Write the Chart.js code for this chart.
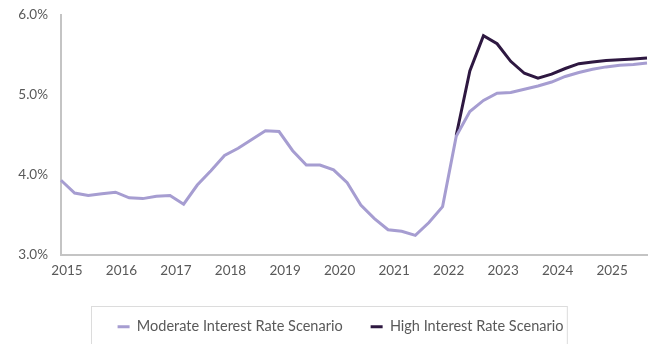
<!DOCTYPE html>
<html>
<head>
<meta charset="utf-8">
<script src="https://cdn.jsdelivr.net/npm/chart.js@4"></script>
<style>
  html, body { margin: 0; padding: 0; background: #fff; }
  #wrap { width: 657px; height: 344px; }
</style>
</head>
<body>
<div id="wrap"><canvas id="myChart" width="657" height="344"></canvas></div>
<script>
// quarterly, 2015 Q1 .. 2025 Q4
var years = [2015, 2016, 2017, 2018, 2019, 2020, 2021, 2022, 2023, 2024, 2025];
var yTicks = [3.0, 4.0, 5.0, 6.0];

var moderate = [
  3.93, 3.77, 3.74, 3.76,  3.78, 3.71, 3.70, 3.73,
  3.74, 3.63, 3.87, 4.05,  4.24, 4.33, 4.44, 4.55,
  4.54, 4.30, 4.12, 4.12,  4.06, 3.90, 3.62, 3.45,
  3.31, 3.29, 3.24, 3.40,  3.60, 4.48, 4.79, 4.93,
  5.02, 5.03, 5.07, 5.11,  5.16, 5.23, 5.28, 5.32,
  5.35, 5.37, 5.38, 5.40
];
var high = [
  null, null, null, null,  null, null, null, null,
  null, null, null, null,  null, null, null, null,
  null, null, null, null,  null, null, null, null,
  null, null, null, null,  null, 4.49, 5.30, 5.74,
  5.64, 5.42, 5.27, 5.21,  5.26, 5.33, 5.39, 5.41,
  5.43, 5.44, 5.45, 5.46
];

var labels = [];
years.forEach(function (y) {
  for (var q = 1; q <= 4; q++) labels.push(y + " Q" + q);
});

var tickColor = "#595959";
var axisColor = "#c4c4c4";
Chart.defaults.font.family = "Lato, 'Open Sans', sans-serif";
Chart.defaults.font.size = 13;
Chart.defaults.color = tickColor;

// nudge the legend a bit right and put a box round it
var legendBorder = {
  id: "legendBorder",
  afterLayout: function (chart) {
    var lg = chart.legend;
    lg.left += 17;
    lg.right += 17;
    (lg.legendHitBoxes || []).forEach(function (b) { b.left += 17; });
  },
  afterDraw: function (chart) {
    var boxes = chart.legend.legendHitBoxes;
    if (!boxes || !boxes.length) return;
    var l = boxes[0].left, r = boxes[boxes.length - 1].left + boxes[boxes.length - 1].width;
    var t = boxes[0].top;
    var ctx = chart.ctx;
    ctx.save();
    ctx.strokeStyle = "#dcdcdc";
    ctx.lineWidth = 1;
    ctx.strokeRect(Math.round(l - 27) + 0.5, Math.round(t - 14) + 0.5, (r - l) + 30, 60);
    ctx.restore();
  }
};

const ctx = document.getElementById("myChart");
new Chart(ctx, {
  type: "line",
  data: {
    labels: labels,
    datasets: [{
      label: "Moderate Interest Rate Scenario",
      data: moderate,
      borderColor: "#a69dd1",
      backgroundColor: "#a69dd1",
      borderWidth: 3,
      pointRadius: 0,
      tension: 0
    }, {
      label: "High Interest Rate Scenario",
      data: high,
      borderColor: "#2e1841",
      backgroundColor: "#2e1841",
      borderWidth: 3,
      pointRadius: 0,
      tension: 0
    }]
  },
  options: {
    responsive: false,
    animation: false,
    layout: { padding: { left: 0, right: 10, top: 15, bottom: 0 } },
    plugins: {
      tooltip: { enabled: false },
      legend: {
        position: "bottom",
        labels: {
          boxWidth: 12,
          boxHeight: 3,
          padding: 28,
          font: { size: 14.5 },
          color: tickColor,
          generateLabels: function (chart) {
            var items = Chart.defaults.plugins.legend.labels.generateLabels(chart);
            items.forEach(function (it) { it.lineWidth = 0; });
            return items;
          }
        }
      }
    },
    scales: {
      x: {
        type: "category",
        offset: false,
        grid: { display: false },
        border: { color: axisColor, width: 2 },
        ticks: {
          autoSkip: false,
          maxRotation: 0,
          labelOffset: 6,
          padding: 0,
          font: { size: 13.5 },
          callback: function (v, i) {
            return i % 4 === 0 ? String(years[i / 4]) : "";
          }
        },
        afterFit: function (scale) { scale.height = 37; }
      },
      y: {
        min: yTicks[0],
        max: yTicks[yTicks.length - 1],
        grid: { display: false },
        border: { color: axisColor, width: 2 },
        afterBuildTicks: function (scale) {
          scale.ticks = yTicks.map(function (v) { return { value: v }; });
        },
        ticks: {
          padding: 5,
          font: { size: 13.5 },
          callback: function (v) { return v.toFixed(1) + "%"; }
        },
        afterFit: function (scale) { scale.width = 61; }
      }
    }
  },
  plugins: [legendBorder]
});
</script>
</body>
</html>
